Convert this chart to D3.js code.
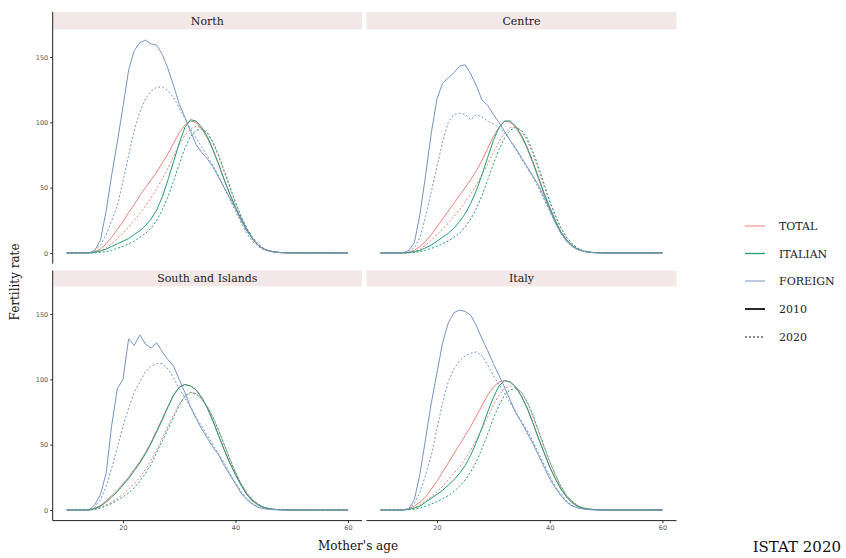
<!DOCTYPE html>
<html><head><meta charset="utf-8">
<script src="https://cdn.jsdelivr.net/npm/d3@7"></script>
<style>
html,body{margin:0;padding:0;background:#fff;}
svg{display:block;}
</style></head>
<body><svg id="chart" width="846" height="558"></svg>
<script>
// ---------------- DATA ----------------
const ages = [10,11,12,13,14,15,16,17,18,19,20,21,22,23,24,25,26,27,28,29,30,31,32,33,34,35,36,37,38,39,40,41,42,43,44,45,46,47,48,49,50,51,52,53,54,55,56,57,58,59,60];
const regions = ["North","Centre","South and Islands","Italy"];
const groups = ["TOTAL","ITALIAN","FOREIGN"];
const years = ["2010","2020"];
const yTicks = [0,50,100,150];
const xTicks = [20,40,60];

// North
const northTotal2010   = [0,0,0,0,0,1,3,7,12,18,24,31,37,44,50,56,62,69,76,84,92,98,101,100,95,88,79,68,56,45,35,26,18,11,6,3,1.5,0.7,0.3,0.1,0,0,0,0,0,0,0,0,0,0,0];
const northItalian2010 = [0,0,0,0,0,0.5,1.5,3,5,7,9,11,14,17,21,26,33,43,56,70,84,96,102,101,96,89,79,68,56,45,35,26,18,11,6,3,1.5,0.7,0.3,0.1,0,0,0,0,0,0,0,0,0,0,0];
const northForeign2010 = [0,0,0,0,0,2,10,32,60,85,112,140,155,161,163,160,159,152,141,128,114,104,93,83,77,72,66,58,50,42,34,25,17,11,6,3,1.5,0.7,0.3,0.1,0,0,0,0,0,0,0,0,0,0,0];
const northTotal2020   = [0,0,0,0,0,0.5,1.5,4,7,11,15,20,25,30,36,42,49,57,65,74,83,90,95,97,96,92,84,74,62,50,38,28,19,12,7,3.5,1.7,0.8,0.3,0.1,0,0,0,0,0,0,0,0,0,0,0];
const northItalian2020 = [0,0,0,0,0,0.2,0.5,1,2,3.5,5,7,9,12,15,19,25,33,43,55,68,80,89,94,95,92,85,75,63,51,39,28,19,12,7,3.5,1.7,0.8,0.3,0.1,0,0,0,0,0,0,0,0,0,0,0];
const northForeign2020 = [0,0,0,0,0,2,6,14,25,36,55,75,94,108,118,124,127,127,124,119,111,103,95,88,81,74,67,59,50,41,32,23,15,9,5,2.5,1.2,0.5,0.2,0.1,0,0,0,0,0,0,0,0,0,0,0];
// Centre
const centreTotal2010   = [0,0,0,0,0,0.5,2,5,9,14,20,26,32,38,44,50,56,63,71,80,89,96,101,100,96,89,80,69,57,45,34,24,16,10,5.5,2.8,1.3,0.6,0.2,0.1,0,0,0,0,0,0,0,0,0,0,0];
const centreItalian2010 = [0,0,0,0,0,0.3,1,2,4,6,9,12,15,19,24,30,38,48,60,73,86,96,101,101,97,90,81,70,58,46,35,25,16,10,5.5,2.8,1.3,0.6,0.2,0.1,0,0,0,0,0,0,0,0,0,0,0];
const centreForeign2010 = [0,0,0,0,0,2,8,30,60,92,118,130,134,138,143,144,137,128,117,113,106,100,93,86,80,73,66,59,52,43,33,23,15,9,5,2.5,1.2,0.5,0.2,0.1,0,0,0,0,0,0,0,0,0,0,0];
const centreTotal2020   = [0,0,0,0,0,0.3,1,3,6,10,14,18,23,28,33,39,45,52,60,68,77,85,92,96,96,93,86,76,64,51,39,28,19,12,7,3.5,1.6,0.7,0.3,0.1,0,0,0,0,0,0,0,0,0,0,0];
const centreItalian2020 = [0,0,0,0,0,0.1,0.4,1,2,3.5,5,7,9,12,15,20,26,34,44,56,68,79,88,94,96,94,88,78,66,53,40,29,19,12,7,3.5,1.6,0.7,0.3,0.1,0,0,0,0,0,0,0,0,0,0,0];
const centreForeign2020 = [0,0,0,0,0,1,4,12,28,47,66,85,100,106,107,106,102,106,104,101,99,96,92,86,79,72,65,58,50,41,32,23,15,9,5,2.5,1.2,0.5,0.2,0.1,0,0,0,0,0,0,0,0,0,0,0];
// South and Islands
const southTotal2010   = [0,0,0,0,0,1.2,3.5,7,11,15,20,25,31,37,44,52,61,70,79,88,94,96,95,92,86,78,68,57,46,36,27,19,12,7,4,2,1,0.4,0.2,0.1,0,0,0,0,0,0,0,0,0,0,0];
const southItalian2010 = [0,0,0,0,0,1,3,6,10,14,19,24,30,36,43,51,60,69,79,88,94,96,95,92,86,78,68,57,46,36,27,19,12,7,4,2,1,0.4,0.2,0.1,0,0,0,0,0,0,0,0,0,0,0];
const southForeign2010 = [0,0,0,0,0,4,12,28,65,93,100,131,126,134,127,124,128,121,115,110,100,90,79,70,62,55,48,42,34,27,20,13,8,4.5,2,1,0.5,0.2,0.1,0,0,0,0,0,0,0,0,0,0,0,0];
const southTotal2020   = [0,0,0,0,0,0.7,2,4,6,9,12,16,20,25,31,38,46,55,64,73,81,87,90,89,85,79,71,61,50,39,29,20,13,8,4.5,2.2,1,0.4,0.2,0.1,0,0,0,0,0,0,0,0,0,0,0];
const southItalian2020 = [0,0,0,0,0,0.5,1.5,3,5,7.5,10,13,17,22,28,35,44,53,62,71,80,87,90,89,85,79,71,61,50,39,29,20,13,8,4.5,2.2,1,0.4,0.2,0.1,0,0,0,0,0,0,0,0,0,0,0];
const southForeign2020 = [0,0,0,0,0,2,8,18,32,48,64,78,90,98,106,110,112,112,108,101,93,86,79,71,64,57,50,43,36,28,21,14,9,5,2.5,1.2,0.5,0.2,0.1,0,0,0,0,0,0,0,0,0,0,0,0];
// Italy
const italyTotal2010   = [0,0,0,0,0,1,3,6,10,16,22,29,36,43,50,57,64,72,80,88,94,98,99,98,94,87,78,67,55,44,33,24,16,10,5.5,2.7,1.3,0.6,0.2,0.1,0,0,0,0,0,0,0,0,0,0,0];
const italyItalian2010 = [0,0,0,0,0,0.5,1.5,3,6,9,12,15,19,23,28,34,42,52,63,75,86,95,99,98,94,87,78,67,55,44,33,24,16,10,5.5,2.7,1.3,0.6,0.2,0.1,0,0,0,0,0,0,0,0,0,0,0];
const italyForeign2010 = [0,0,0,0,0,1,8,28,55,82,105,128,143,151,153,152,149,141,131,122,112,103,94,84,74,67,59,51,42,33,24,17,11,6,3,1.5,0.7,0.3,0.1,0,0,0,0,0,0,0,0,0,0,0,0];
const italyTotal2020   = [0,0,0,0,0,0.5,1.5,4,7,10,14,18,23,28,33,39,46,54,62,71,80,88,93,95,94,90,82,72,60,48,37,27,18,11,6.5,3.2,1.5,0.7,0.3,0.1,0,0,0,0,0,0,0,0,0,0,0];
const italyItalian2020 = [0,0,0,0,0,0.2,0.6,1.5,3,4.5,6.5,8.5,11,14,18,23,29,37,47,58,70,80,88,92,93,90,83,73,61,49,37,27,18,11,6.5,3.2,1.5,0.7,0.3,0.1,0,0,0,0,0,0,0,0,0,0,0];
const italyForeign2020 = [0,0,0,0,0,1,5,14,27,42,62,82,98,108,114,118,120,121,118,111,103,96,89,82,75,68,61,53,44,35,26,18,12,7,3.5,1.7,0.8,0.3,0.1,0,0,0,0,0,0,0,0,0,0,0,0];

const seriesByRegion = {
  "North": {TOTAL:{"2010":northTotal2010,"2020":northTotal2020}, ITALIAN:{"2010":northItalian2010,"2020":northItalian2020}, FOREIGN:{"2010":northForeign2010,"2020":northForeign2020}},
  "Centre": {TOTAL:{"2010":centreTotal2010,"2020":centreTotal2020}, ITALIAN:{"2010":centreItalian2010,"2020":centreItalian2020}, FOREIGN:{"2010":centreForeign2010,"2020":centreForeign2020}},
  "South and Islands": {TOTAL:{"2010":southTotal2010,"2020":southTotal2020}, ITALIAN:{"2010":southItalian2010,"2020":southItalian2020}, FOREIGN:{"2010":southForeign2010,"2020":southForeign2020}},
  "Italy": {TOTAL:{"2010":italyTotal2010,"2020":italyTotal2020}, ITALIAN:{"2010":italyItalian2010,"2020":italyItalian2020}, FOREIGN:{"2010":italyForeign2010,"2020":italyForeign2020}}
};

// ---------------- STYLE ----------------
const colors = {TOTAL:"#F0807A", ITALIAN:"#1E9E74", FOREIGN:"#7594C6"};
const dash = {"2010":null, "2020":"2,2"};
const serif = "'DejaVu Serif', 'Liberation Serif', serif";

const svg = d3.select("#chart");

// Panel layout
const colX = [[52.7, 362], [366.5, 676.5]];
const rowY = [{strip:[12, 29.4], panel:[29.4, 263.6]}, {strip:[270.5, 286.4], panel:[286.4, 520.6]}];

const allVals = [];
regions.forEach(r => groups.forEach(g => years.forEach(y => allVals.push(...seriesByRegion[r][g][y]))));
const ymax = d3.max(allVals), xmin = d3.min(ages), xmax = d3.max(ages);
const yPad = (ymax - 0) * 0.05, xPad = (xmax - xmin) * 0.05;

regions.forEach((reg, i) => {
  const col = i % 2, row = Math.floor(i / 2);
  const [x0, x1] = colX[col];
  const ry = rowY[row];
  const x = d3.scaleLinear().domain([xmin - xPad, xmax + xPad]).range([x0, x1]);
  const y = d3.scaleLinear().domain([0 - yPad, ymax + yPad]).range([ry.panel[1], ry.panel[0]]);
  const g = svg.append("g");

  // strip
  g.append("rect").attr("x", x0).attr("y", ry.strip[0]).attr("width", x1 - x0).attr("height", ry.strip[1] - ry.strip[0])
    .attr("fill", "#F4E7E7");
  g.append("text").attr("x", (x0 + x1) / 2).attr("y", (ry.strip[0] + ry.strip[1]) / 2 + 4)
    .attr("text-anchor", "middle").attr("font-family", serif).attr("font-size", 11).attr("fill", "#1a1a1a").text(reg);

  // lines
  const line = d3.line().x((d, k) => x(ages[k])).y(d => y(d));
  years.slice().reverse().forEach(yr => {
    groups.forEach(grp => {
      g.append("path").datum(seriesByRegion[reg][grp][yr])
        .attr("d", line).attr("fill", "none")
        .attr("stroke", colors[grp]).attr("stroke-width", 1)
        .attr("stroke-dasharray", dash[yr]);
    });
  });

  // y axis on left column
  if (col === 0) {
    const ya = d3.axisLeft(y).tickValues(yTicks).tickSize(2.5).tickPadding(2);
    const ag = g.append("g").attr("transform", `translate(${x0},0)`).call(ya);
    ag.select(".domain").remove();
    ag.selectAll(".tick line").attr("stroke", "#333");
    ag.selectAll(".tick text").attr("font-family", "'DejaVu Sans', sans-serif").attr("font-size", 6.5).attr("fill", "#555");
    g.append("line").attr("x1", x0).attr("x2", x0).attr("y1", ry.strip[0]).attr("y2", ry.panel[1])
      .attr("stroke", "#222").attr("stroke-width", 1);
  }
  // x axis on bottom row
  if (row === 1) {
    const xa = d3.axisBottom(x).tickValues(xTicks).tickSize(2.5).tickPadding(2);
    const ag = g.append("g").attr("transform", `translate(0,${ry.panel[1]})`).call(xa);
    ag.select(".domain").remove();
    ag.selectAll(".tick line").attr("stroke", "#333");
    ag.selectAll(".tick text").attr("font-family", "'DejaVu Sans', sans-serif").attr("font-size", 6.5).attr("fill", "#555");
    g.append("line").attr("x1", x0).attr("x2", x1).attr("y1", ry.panel[1]).attr("y2", ry.panel[1])
      .attr("stroke", "#222").attr("stroke-width", 1);
  }
});

// axis titles
svg.append("text").attr("x", 358).attr("y", 550).attr("text-anchor", "middle")
  .attr("font-family", serif).attr("font-size", 12).attr("fill", "#111").text("Mother's age");
svg.append("text").attr("transform", "translate(19,282) rotate(-90)").attr("text-anchor", "middle")
  .attr("font-family", serif).attr("font-size", 12).attr("fill", "#111").text("Fertility rate");

// legend
const legendItems = [
  {label:"TOTAL", color:colors.TOTAL, dash:null, w:1},
  {label:"ITALIAN", color:colors.ITALIAN, dash:null, w:1.3},
  {label:"FOREIGN", color:colors.FOREIGN, dash:null, w:1},
  {label:"2010", color:"#111", dash:null, w:1.8},
  {label:"2020", color:"#111", dash:"2,2", w:1}
];
const legY = [226, 253.5, 281, 309, 337];
legendItems.forEach((it, k) => {
  svg.append("line").attr("x1", 745).attr("x2", 765).attr("y1", legY[k]).attr("y2", legY[k])
    .attr("stroke", it.color).attr("stroke-width", it.w).attr("stroke-dasharray", it.dash);
  svg.append("text").attr("x", 779).attr("y", legY[k] + 4).attr("font-family", serif).attr("font-size", 11)
    .attr("fill", "#222").text(it.label);
});

// caption
svg.append("text").attr("x", 841).attr("y", 552).attr("text-anchor", "end")
  .attr("font-family", serif).attr("font-size", 15).attr("fill", "#111").text("ISTAT 2020");
</script>
</body></html>
